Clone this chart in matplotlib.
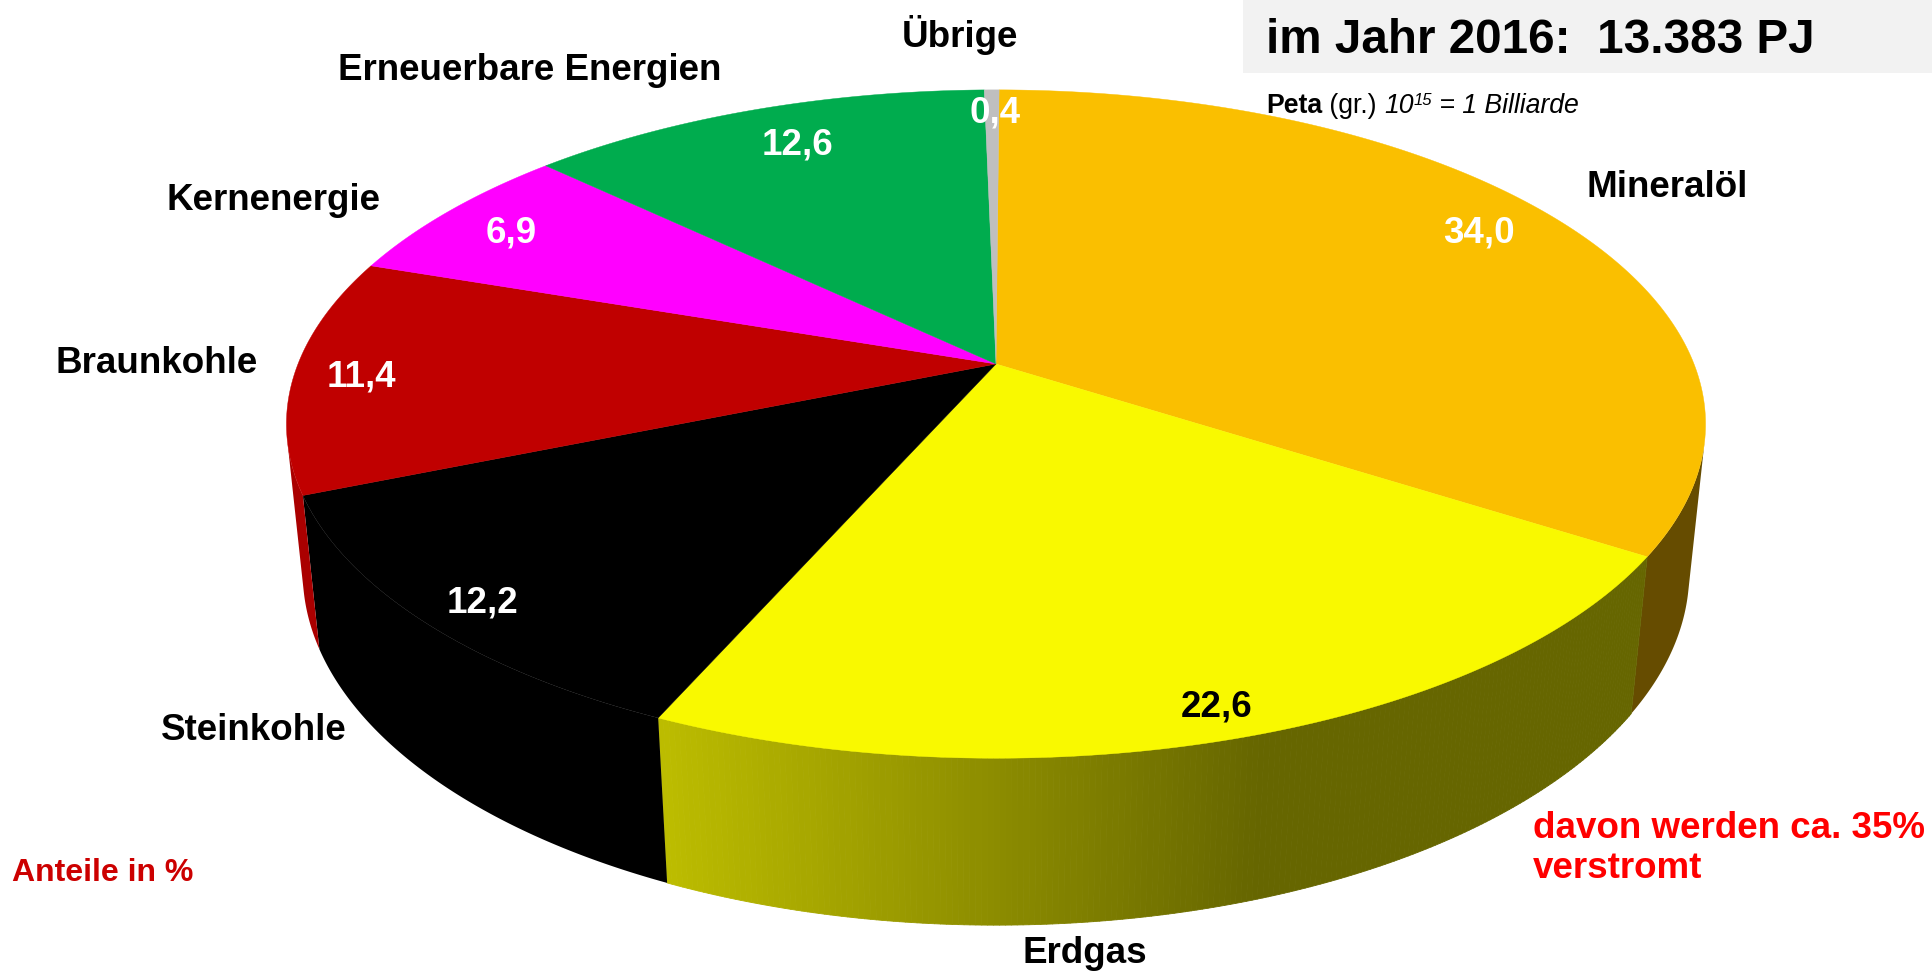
import numpy as np
import matplotlib
matplotlib.use("Agg")
import matplotlib.pyplot as plt
from matplotlib.collections import PolyCollection

# data: Primärenergieverbrauch 2016, Anteile in %
categories = ["Mineralöl", "Erdgas", "Steinkohle", "Braunkohle",
              "Kernenergie", "Erneuerbare Energien", "Übrige"]
shares = [34.0, 22.6, 12.2, 11.4, 6.9, 12.6, 0.4]
value_labels = ["34,0", "22,6", "12,2", "11,4", "6,9", "12,6", "0,4"]

TOP_COLORS  = ["#FABF00", "#F9F900", "#000000", "#C00000", "#FF00FF", "#00AC4E", "#BFBFBF"]
SIDE_COLORS = ["#664C00", None, "#000000", "#AA0000", "#FF00FF", "#00AC4E", "#BFBFBF"]
GAS_LIGHT = np.array([0xBC, 0xBC, 0x00]) / 255
GAS_DARK  = np.array([0x66, 0x66, 0x00]) / 255

# camera / layout of the 3D pie in pixel space
CX, CY = 996, 364
PHI = np.radians(27.6)
S, C = np.sin(PHI), np.cos(PHI)
DIST = 5.566 * C
FOC = 3443
HEIGHT = 0.242
START = np.radians(0.3)   # slight clockwise rotation of the first slice

# label positions (pixel coords, baseline)
name_pos = [(1667, 197), (1085, 963), (254, 740), (157, 373),
            (274, 210), (530, 80), (960, 47)]
value_pos = [(1479, 243), (1217, 717), (483, 613), (361, 387),
             (511, 242), (798, 155), (995, 123)]
value_colors = ["white", "black", "white", "white", "white", "white", "white"]

plt.rcParams["font.family"] = ["Liberation Sans", "DejaVu Sans"]


def project(theta, z):
    x, y = np.sin(theta), np.cos(theta)
    depth = DIST + y * C - z * S
    return CX + FOC * x / depth, CY - FOC * (y * S + z * C) / depth


fig = plt.figure(figsize=(19.33, 9.73), dpi=100, facecolor="white")
ax = fig.add_axes([0, 0, 1, 1])
ax.set_xlim(0, 1933)
ax.set_ylim(973, 0)
ax.axis("off")

fracs = np.array(shares) / sum(shares)
edges = START + np.concatenate([[0], np.cumsum(fracs)]) * 2 * np.pi

# visible part of the outer wall
vis_lo = np.arccos(-1 / (DIST * C))
vis_hi = 2 * np.pi - vis_lo

for i in range(len(shares)):
    a0, a1 = max(edges[i], vis_lo), min(edges[i + 1], vis_hi)
    if a1 <= a0:
        continue
    th = np.linspace(a0, a1, 200)
    tx, ty = project(th, 0)
    bx, by = project(th, -HEIGHT)
    if SIDE_COLORS[i] is None:
        # Erdgas wall: light-to-dark gradient from left to right
        polys, cols = [], []
        for k in range(len(th) - 1):
            polys.append([(tx[k], ty[k]), (tx[k + 1], ty[k + 1]),
                          (bx[k + 1], by[k + 1]), (bx[k], by[k])])
            t = np.clip((1260 - (tx[k] + tx[k + 1]) / 2) / (1260 - 663), 0, 1)
            cols.append(GAS_DARK * (1 - t) + GAS_LIGHT * t)
        ax.add_collection(PolyCollection(polys, facecolors=cols, edgecolors=cols,
                                         linewidths=0.6, zorder=2))
    else:
        xs = np.concatenate([tx, bx[::-1]])
        ys = np.concatenate([ty, by[::-1]])
        ax.fill(xs, ys, color=SIDE_COLORS[i], lw=0, zorder=2)

for i in range(len(shares)):
    th = np.linspace(edges[i], edges[i + 1], max(int(fracs[i] * 600), 4))
    tx, ty = project(th, 0)
    ax.fill(np.concatenate([[CX], tx]), np.concatenate([[CY], ty]),
            color=TOP_COLORS[i], lw=0.3, ec=TOP_COLORS[i], zorder=3)

for i, name in enumerate(categories):
    ax.text(*name_pos[i], name, fontsize=26.5, fontweight="bold",
            ha="center", va="baseline", zorder=5)
    ax.text(*value_pos[i], value_labels[i], fontsize=26.5, fontweight="bold",
            color=value_colors[i], ha="center", va="baseline", zorder=5)

# title box
ax.add_patch(plt.Rectangle((1243, 0), 700, 73, color="#F2F2F2", lw=0, zorder=1))
ax.text(1266, 53, "im Jahr 2016:  13.383 PJ", fontsize=34.3, fontweight="bold",
        ha="left", va="baseline", zorder=5)

t1 = ax.text(1266, 113, "Peta", fontsize=19.2, fontweight="bold", va="baseline", zorder=5)
t2 = ax.annotate(" (gr.) ", xy=(1, 0), xycoords=t1, fontsize=19.2, va="bottom", zorder=5)
t3 = ax.annotate("10", xy=(1, 0), xycoords=t2, fontsize=19.2, style="italic",
                 va="bottom", zorder=5)
t4 = ax.annotate("15", xy=(1, 1), xycoords=t3, fontsize=12, style="italic",
                 va="top", zorder=5)
ax.annotate(" = 1 Billiarde", xy=(1, 0), xycoords=(t4, t3), fontsize=19.2,
            style="italic", va="bottom", zorder=5)

ax.text(12, 881, "Anteile in %", fontsize=23, fontweight="bold", color="#CC0000",
        ha="left", va="baseline", zorder=5)
ax.text(1533, 878, "davon werden ca. 35%\nverstromt", fontsize=26.5, fontweight="bold",
        color="#FF0000", ha="left", va="baseline", linespacing=1.2, zorder=5)

fig.savefig("out.png", dpi=100, facecolor="white")
